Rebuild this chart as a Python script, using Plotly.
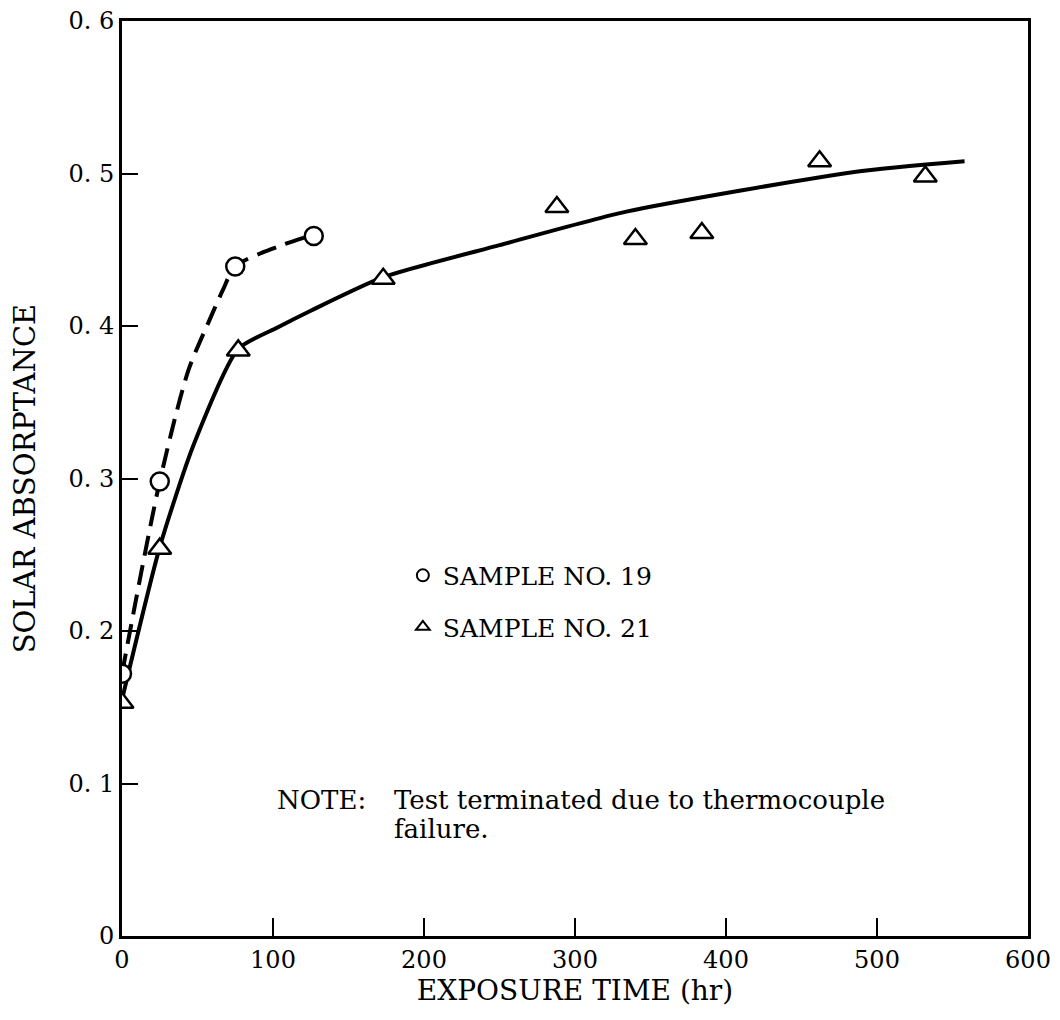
import plotly.graph_objects as go

# Sample No. 19 (circles)
s19_x = [0, 25, 75, 127]
s19_y = [0.172, 0.298, 0.439, 0.459]
# Sample No. 21 (triangles)
s21_x = [0, 25, 77, 173, 288, 340, 384, 462, 532]
s21_y = [0.153, 0.254, 0.384, 0.431, 0.478, 0.457, 0.461, 0.508, 0.498]

# Faired curves
c19_x = [0, 25, 44, 58, 67, 75, 103, 127]
c19_y = [0.172, 0.298, 0.371, 0.404, 0.424, 0.439, 0.452, 0.460]
c21_x = [0, 25, 47, 77, 103, 125, 173, 250, 334, 485, 558]
c21_y = [0.155, 0.255, 0.321, 0.385, 0.399, 0.410, 0.432, 0.453, 0.475, 0.501, 0.508]

x_ticks = [0, 100, 200, 300, 400, 500, 600]
y_ticks = [0, 0.1, 0.2, 0.3, 0.4, 0.5, 0.6]
y_labels = ["0", "0. 1", "0. 2", "0. 3", "0. 4", "0. 5", "0. 6"]

FONT = "DejaVu Serif"

fig = go.Figure()
fig.add_trace(go.Scatter(x=c19_x, y=c19_y, mode="lines",
                         line=dict(color="black", width=4, dash="20px,10px", shape="spline", smoothing=0.8),
                         showlegend=False, hoverinfo="skip"))
fig.add_trace(go.Scatter(x=c21_x, y=c21_y, mode="lines",
                         line=dict(color="black", width=4, shape="spline", smoothing=0.6),
                         showlegend=False, hoverinfo="skip"))
fig.add_trace(go.Scatter(x=s19_x, y=s19_y, mode="markers", name="SAMPLE NO. 19", legendgroup="a",
                         marker=dict(symbol="circle", size=18, color="white", line=dict(color="black", width=2.5))))
fig.add_trace(go.Scatter(x=s21_x, y=s21_y, mode="markers", name="SAMPLE NO. 21", legendgroup="b",
                         marker=dict(symbol="triangle-up", size=20, color="white", line=dict(color="black", width=2.5))))

note_font = dict(family=FONT, size=26, color="black")
fig.add_annotation(x=101, y=0.089, xref="x", yref="y", text="NOTE:", showarrow=False,
                   xanchor="left", yanchor="middle", font=note_font)
fig.add_annotation(x=179, y=0.089, xref="x", yref="y", text="Test terminated due to thermocouple",
                   showarrow=False, xanchor="left", yanchor="middle", font=note_font)
fig.add_annotation(x=179, y=0.070, xref="x", yref="y", text="failure.",
                   showarrow=False, xanchor="left", yanchor="middle", font=note_font)

fig.update_layout(
    width=1052, height=1012,
    margin=dict(l=114, r=32, t=13, b=84),
    paper_bgcolor="white", plot_bgcolor="white",
    font=dict(family=FONT, size=24, color="black"),
    legend=dict(x=0.31, y=0.419, xanchor="left", yanchor="top", bgcolor="rgba(0,0,0,0)",
                traceorder="grouped", tracegroupgap=16, font=dict(family=FONT, size=25),
                itemsizing="constant"),
    xaxis=dict(range=[0, 600], tickvals=x_ticks, ticktext=[str(v) for v in x_ticks], automargin=False,
               ticklabeloverflow="allow",
               ticks="inside", ticklen=18, tickwidth=2, tickcolor="black", tickfont=dict(size=24),
               showline=True, linewidth=3, linecolor="black", mirror=True, showgrid=False, zeroline=False,
               title=dict(text="EXPOSURE TIME (hr)", font=dict(family=FONT, size=28), standoff=0)),
    yaxis=dict(range=[0, 0.6], tickvals=y_ticks, ticktext=y_labels, automargin=False,
               ticklabeloverflow="allow",
               ticks="inside", ticklen=16, tickwidth=2, tickcolor="black", tickfont=dict(size=24),
               showline=True, linewidth=3, linecolor="black", mirror=True, showgrid=False, zeroline=False,
               title=dict(text="SOLAR ABSORPTANCE", font=dict(family=FONT, size=29), standoff=27)),
)

fig.write_html("out.html")
